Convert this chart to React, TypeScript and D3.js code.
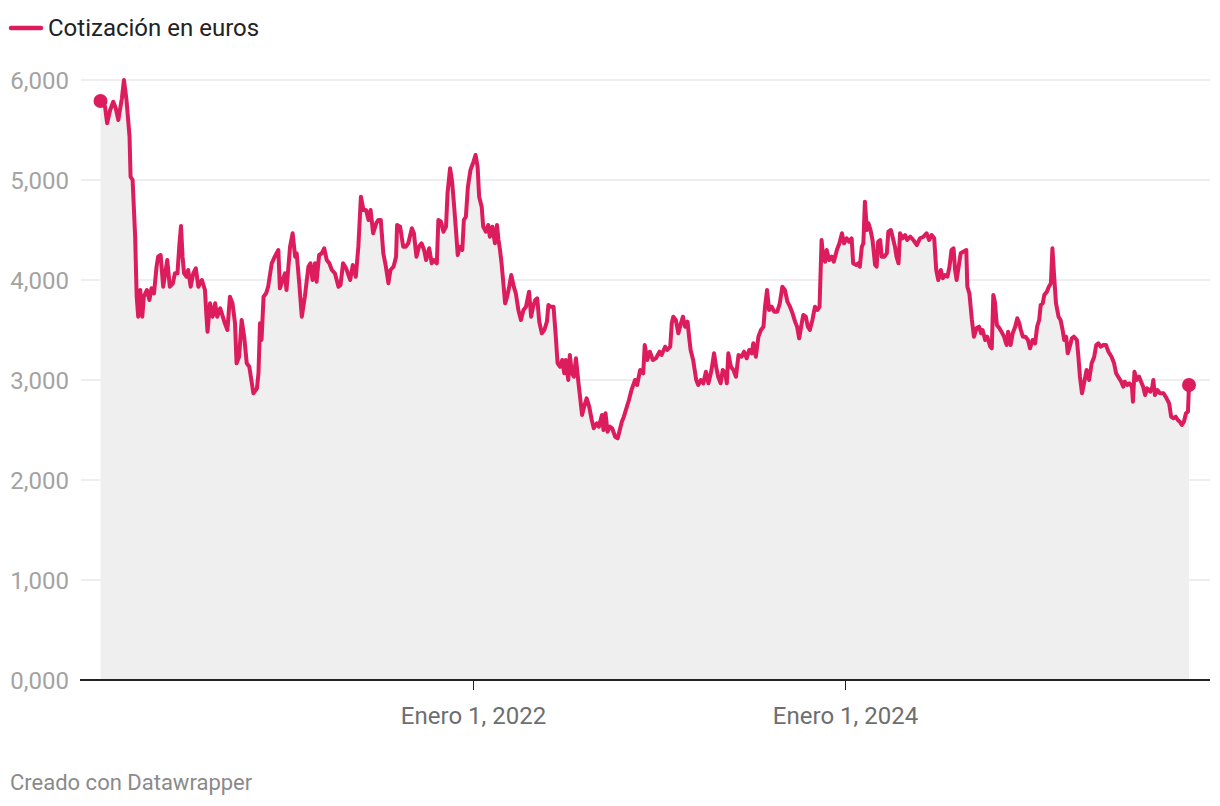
import React from "react";
import * as d3 from "d3";

const seriesName = "Cotización en euros";
const footerText = "Creado con Datawrapper";

const dates: string[] = [
"2020-01-01","2020-01-10","2020-01-14","2020-01-20","2020-01-26","2020-01-31","2020-02-05","2020-02-12","2020-02-16","2020-02-21",
"2020-02-27","2020-02-29","2020-03-04","2020-03-09","2020-03-12","2020-03-15","2020-03-19","2020-03-23","2020-03-26","2020-04-01",
"2020-04-06","2020-04-10","2020-04-15","2020-04-20","2020-04-23","2020-04-28","2020-05-03","2020-05-11","2020-05-16","2020-05-22",
"2020-05-26","2020-05-31","2020-06-04","2020-06-07","2020-06-10","2020-06-13","2020-06-18","2020-06-21","2020-06-26","2020-07-01",
"2020-07-06","2020-07-11","2020-07-18","2020-07-24","2020-07-27","2020-07-29","2020-08-03","2020-08-08","2020-08-13","2020-08-17",
"2020-08-23","2020-08-28","2020-09-01","2020-09-06","2020-09-11","2020-09-16","2020-09-21","2020-09-24","2020-09-29","2020-10-04",
"2020-10-09","2020-10-14","2020-10-19","2020-10-24","2020-10-27","2020-11-03","2020-11-06","2020-11-09","2020-11-12","2020-11-16",
"2020-11-21","2020-11-25","2020-12-02","2020-12-08","2020-12-15","2020-12-18","2020-12-28","2020-12-31",
"2021-01-07","2021-01-12","2021-01-17","2021-01-20","2021-01-25","2021-01-30","2021-02-05","2021-02-12","2021-02-16","2021-02-20",
"2021-02-25","2021-02-28","2021-03-05","2021-03-10","2021-03-15","2021-03-20","2021-03-25","2021-03-30","2021-04-05","2021-04-12",
"2021-04-16","2021-04-21","2021-04-27","2021-05-05","2021-05-10","2021-05-16","2021-05-21","2021-05-26","2021-05-31","2021-06-05",
"2021-06-10","2021-06-14","2021-06-19","2021-06-25","2021-06-29","2021-07-04","2021-07-09","2021-07-14","2021-07-19","2021-07-23",
"2021-07-29","2021-08-03","2021-08-05","2021-08-11","2021-08-17","2021-08-22","2021-08-27","2021-09-03","2021-09-07","2021-09-12",
"2021-09-17","2021-09-22","2021-09-27","2021-10-01","2021-10-07","2021-10-12","2021-10-16","2021-10-22","2021-10-25","2021-10-30",
"2021-11-04","2021-11-09","2021-11-12","2021-11-17","2021-11-21","2021-11-25","2021-11-29","2021-12-02","2021-12-06","2021-12-11",
"2021-12-14","2021-12-18","2021-12-22","2021-12-27",
"2022-01-02","2022-01-06","2022-01-10","2022-01-13","2022-01-18","2022-01-21","2022-01-26","2022-01-31","2022-02-03","2022-02-08",
"2022-02-13","2022-02-17","2022-02-20","2022-02-23","2022-02-26","2022-03-01","2022-03-05","2022-03-09","2022-03-13","2022-03-17",
"2022-03-22","2022-03-26","2022-03-31","2022-04-05","2022-04-10","2022-04-15","2022-04-21","2022-04-25","2022-04-29","2022-05-03",
"2022-05-07","2022-05-11","2022-05-16","2022-05-21","2022-05-26","2022-05-29","2022-06-02","2022-06-08","2022-06-12","2022-06-16",
"2022-06-21","2022-06-25","2022-06-29","2022-07-02","2022-07-07","2022-07-10","2022-07-14","2022-07-18","2022-07-22","2022-07-27",
"2022-07-30","2022-08-03","2022-08-07","2022-08-12","2022-08-17","2022-08-22","2022-08-26","2022-09-01","2022-09-05","2022-09-11",
"2022-09-14","2022-09-18","2022-09-22","2022-09-27","2022-10-01","2022-10-07","2022-10-12","2022-10-16","2022-10-20","2022-10-24",
"2022-10-30","2022-11-03","2022-11-08","2022-11-15","2022-11-19","2022-11-25","2022-12-01","2022-12-04","2022-12-09","2022-12-14",
"2022-12-20","2022-12-26",
"2023-01-02","2023-01-06","2023-01-13","2023-01-17","2023-01-23","2023-01-26","2023-01-29","2023-02-03","2023-02-08","2023-02-13",
"2023-02-17","2023-02-21","2023-02-26","2023-03-01","2023-03-04","2023-03-09","2023-03-15","2023-03-19","2023-03-24","2023-03-29",
"2023-04-03","2023-04-08","2023-04-14","2023-04-19","2023-04-23","2023-04-27","2023-05-02","2023-05-06","2023-05-11","2023-05-14",
"2023-05-17","2023-05-22","2023-05-27","2023-06-01","2023-06-06","2023-06-12","2023-06-17","2023-06-22","2023-06-27","2023-07-02",
"2023-07-05","2023-07-10","2023-07-15","2023-07-20","2023-07-25","2023-07-28","2023-08-01","2023-08-05","2023-08-10","2023-08-15",
"2023-08-21","2023-08-26","2023-08-31","2023-09-05","2023-09-10","2023-09-15","2023-09-20","2023-09-25","2023-09-29","2023-10-03",
"2023-10-08","2023-10-11","2023-10-16","2023-10-20","2023-10-24","2023-10-29","2023-11-03","2023-11-08","2023-11-12","2023-11-16",
"2023-11-19","2023-11-23","2023-11-26","2023-12-01","2023-12-06","2023-12-10","2023-12-16","2023-12-21","2023-12-26","2023-12-30",
"2024-01-04","2024-01-09","2024-01-14","2024-01-17","2024-01-23","2024-01-27","2024-01-30","2024-02-03","2024-02-06","2024-02-09",
"2024-02-13","2024-02-16","2024-02-20","2024-02-24","2024-02-29","2024-03-03","2024-03-06","2024-03-10","2024-03-13","2024-03-18",
"2024-03-23","2024-03-26","2024-03-31","2024-04-04","2024-04-08","2024-04-11","2024-04-15","2024-04-18","2024-04-23","2024-04-28",
"2024-05-02","2024-05-08","2024-05-14","2024-05-21","2024-05-27","2024-06-03","2024-06-09","2024-06-14","2024-06-19","2024-06-24",
"2024-06-28","2024-07-02","2024-07-07","2024-07-11","2024-07-15","2024-07-20","2024-07-24","2024-07-28","2024-08-01","2024-08-04",
"2024-08-07","2024-08-12","2024-08-15","2024-08-20","2024-08-26","2024-08-28","2024-09-01","2024-09-06","2024-09-10","2024-09-15",
"2024-09-20","2024-09-24","2024-09-27","2024-10-02","2024-10-06","2024-10-12","2024-10-15","2024-10-18","2024-10-21","2024-10-25",
"2024-10-30","2024-11-03","2024-11-08","2024-11-13","2024-11-16","2024-11-21","2024-11-25","2024-11-30","2024-12-04","2024-12-08",
"2024-12-11","2024-12-15","2024-12-20","2024-12-25","2024-12-29",
"2025-01-03","2025-01-08","2025-01-12","2025-01-16","2025-01-19","2025-01-23","2025-01-26","2025-01-31","2025-02-04","2025-02-08",
"2025-02-11","2025-02-14","2025-02-18","2025-02-23","2025-02-27","2025-03-03","2025-03-06","2025-03-10","2025-03-13","2025-03-18",
"2025-03-21","2025-03-25","2025-03-31","2025-04-03","2025-04-06","2025-04-10","2025-04-14","2025-04-19","2025-04-24","2025-04-29",
"2025-05-04","2025-05-08","2025-05-12","2025-05-17","2025-05-22","2025-05-27","2025-06-01","2025-06-07","2025-06-12","2025-06-16",
"2025-06-20","2025-06-26","2025-06-30","2025-07-03","2025-07-08","2025-07-12","2025-07-17","2025-07-19","2025-07-22","2025-07-26",
"2025-07-31","2025-08-04","2025-08-08","2025-08-12","2025-08-16","2025-08-22","2025-08-26","2025-08-28","2025-08-31","2025-09-05",
"2025-09-10","2025-09-17","2025-09-23","2025-09-28","2025-10-02","2025-10-06","2025-10-11","2025-10-15","2025-10-19","2025-10-23",
"2025-10-27","2025-10-31","2025-11-04","2025-11-06"
];

const values: number[] = [
5790,5733,5567,5700,5783,5717,5600,5817,6000,5800,
5433,5033,5000,4433,3833,3633,3900,3633,3833,3900,
3800,3917,3867,4133,4233,4250,3933,4200,3933,3967,
4067,4067,4367,4540,4233,4067,4033,4100,3933,4067,
4117,3933,4000,3900,3633,3483,3767,3633,3767,3633,
3717,3633,3567,3500,3833,3767,3567,3167,3233,3600,
3433,3167,3133,2967,2867,2917,3067,3567,3400,3833,
3867,3933,4167,4233,4300,3917,4067,3900,
4333,4467,4233,4267,3967,3633,3833,4133,4167,4000,
4167,3983,4250,4267,4317,4200,4167,4100,4067,3933,
3950,4167,4117,4000,4150,4033,4333,4833,4700,4700,
4600,4700,4467,4567,4600,4600,4267,4133,3967,4100,
4133,4233,4550,4533,4333,4333,4367,4517,4467,4233,
4333,4367,4300,4200,4317,4167,4200,4167,4600,4583,
4483,4533,4867,5117,4983,4733,4467,4250,4333,4300,
4600,4633,4933,5100,
5183,5250,5133,4833,4733,4533,4483,4550,4433,4533,
4367,4550,4400,4300,4167,4000,3767,3833,3933,4050,
3933,3867,3700,3600,3700,3733,3883,3633,3733,3800,
3817,3583,3467,3500,3583,3750,3733,3733,3467,3167,
3133,3200,3067,3200,3000,3250,3067,3033,3217,2967,
2833,2650,2733,2817,2733,2600,2517,2567,2533,2650,
2500,2667,2483,2533,2517,2433,2417,2500,2583,2633,
2733,2800,2900,3000,2950,3100,3067,3350,3200,3283,
3200,3217,
3283,3250,3333,3300,3333,3567,3633,3600,3467,3567,
3633,3533,3583,3433,3300,3200,3000,2950,3000,2967,
3083,2967,3100,3267,3133,3033,2967,3100,3067,2967,
3267,3133,3100,3033,3250,3233,3283,3217,3300,3267,
3367,3233,3433,3500,3533,3733,3900,3700,3733,3683,
3683,3767,3933,3900,3783,3733,3667,3583,3533,3417,
3567,3650,3633,3533,3500,3600,3733,3700,3733,4400,
4233,4183,4300,4200,4233,4183,4300,4367,4467,4367,
4417,4383,4417,4167,4150,4167,4133,4333,4367,4783,
4500,4567,4500,4400,4150,4133,4383,4400,4233,4233,
4267,4483,4500,4417,4333,4233,4167,4467,4417,4450,
4400,4433,4400,4350,4417,4433,4467,4400,4450,4417,
4100,4000,4100,4017,4050,4033,4133,4300,4317,4100,
4000,4167,4267,4283,4300,3933,3867,3600,3433,3517,
3533,3467,3500,3400,3433,3333,3317,3850,3783,3550,
3517,3483,3433,3350,3483,3350,3467,3533,3617,3567,
3500,3433,3433,3400,3317,
3400,3367,3533,3600,3750,3767,3850,3883,3933,3967,
4317,4067,3767,3633,3600,3500,3400,3433,3267,3350,
3417,3433,3400,3233,3033,2867,2967,3100,3000,3167,
3233,3350,3367,3333,3350,3350,3283,3233,3167,3067,
3033,2983,2933,2983,2950,2967,2933,2783,3083,3000,
3033,2983,2933,2850,2917,2883,2933,3000,2850,2900,
2867,2867,2817,2767,2633,2617,2633,2600,2583,2550,
2583,2667,2683,2950
];

const yTickValues = [0, 1000, 2000, 3000, 4000, 5000, 6000];
const yTickLabels = ["0,000", "1,000", "2,000", "3,000", "4,000", "5,000", "6,000"];
const xTickDates = ["2022-01-01", "2024-01-01"];
const xTickLabels = ["Enero 1, 2022", "Enero 1, 2024"];

const W = 1220;
const H = 806;
const COLOR = "#dc1c5c";
const FONT = "Roboto, 'Noto Sans', sans-serif";

export default function App() {
  const parse = d3.utcParse("%Y-%m-%d");
  const data = dates.map((d, i) => ({ date: parse(d) as Date, value: values[i] }));

  const first = data[0].date;
  const last = data[data.length - 1].date;
  const x = d3.scaleUtc().domain([first, last]).range([100.5, 1189]);
  const y = d3.scaleLinear().domain([0, 6000]).range([680, 80]);

  const line = d3
    .line<{ date: Date; value: number }>()
    .x((d) => x(d.date))
    .y((d) => y(d.value));
  const area = d3
    .area<{ date: Date; value: number }>()
    .x((d) => x(d.date))
    .y0(y(0))
    .y1((d) => y(d.value));

  const startPt = data[0];
  const endPt = data[data.length - 1];

  return (
    <svg
      width={W}
      height={H}
      style={{ position: "absolute", left: 0, top: 0, background: "#fff" }}
      fontFamily={FONT}
    >
      {/* legend */}
      <line x1={11} x2={41} y1={28} y2={28} stroke={COLOR} strokeWidth={4.5} strokeLinecap="round" />
      <text x={48} y={36} fontSize={24} fill="#222">
        {seriesName}
      </text>

      {/* gridlines */}
      {yTickValues.map((v, i) => (
        <g key={v}>
          {v !== 0 && (
            <line x1={81} x2={1210} y1={y(v)} y2={y(v)} stroke="#dedede" strokeWidth={1.2} />
          )}
          <text
            x={69}
            y={y(v) + 8.5}
            textAnchor="end"
            fontSize={24}
            fill="#a3a3a3"
          >
            {yTickLabels[i]}
          </text>
        </g>
      ))}

      {/* area + line */}
      <path d={area(data) || ""} fill="#efefef" />
      <path
        d={line(data) || ""}
        fill="none"
        stroke={COLOR}
        strokeWidth={4}
        strokeLinejoin="round"
        strokeLinecap="round"
      />
      <circle cx={x(startPt.date)} cy={y(startPt.value)} r={7} fill={COLOR} />
      <circle cx={x(endPt.date)} cy={y(endPt.value)} r={7} fill={COLOR} />

      {/* x axis */}
      <line x1={80} x2={1210} y1={y(0)} y2={y(0)} stroke="#222" strokeWidth={2} />
      {xTickDates.map((d, i) => {
        const xx = Math.round(x(parse(d) as Date)) + 0.5;
        return (
          <g key={d}>
            <line x1={xx} x2={xx} y1={y(0)} y2={y(0) + 10} stroke="#222" strokeWidth={1} />
            <text x={xx} y={724} textAnchor="middle" fontSize={24} fill="#6e6e6e">
              {xTickLabels[i]}
            </text>
          </g>
        );
      })}

      {/* footer */}
      <text x={10} y={790} fontSize={22} fill="#8a8a8a">
        {footerText}
      </text>
    </svg>
  );
}
